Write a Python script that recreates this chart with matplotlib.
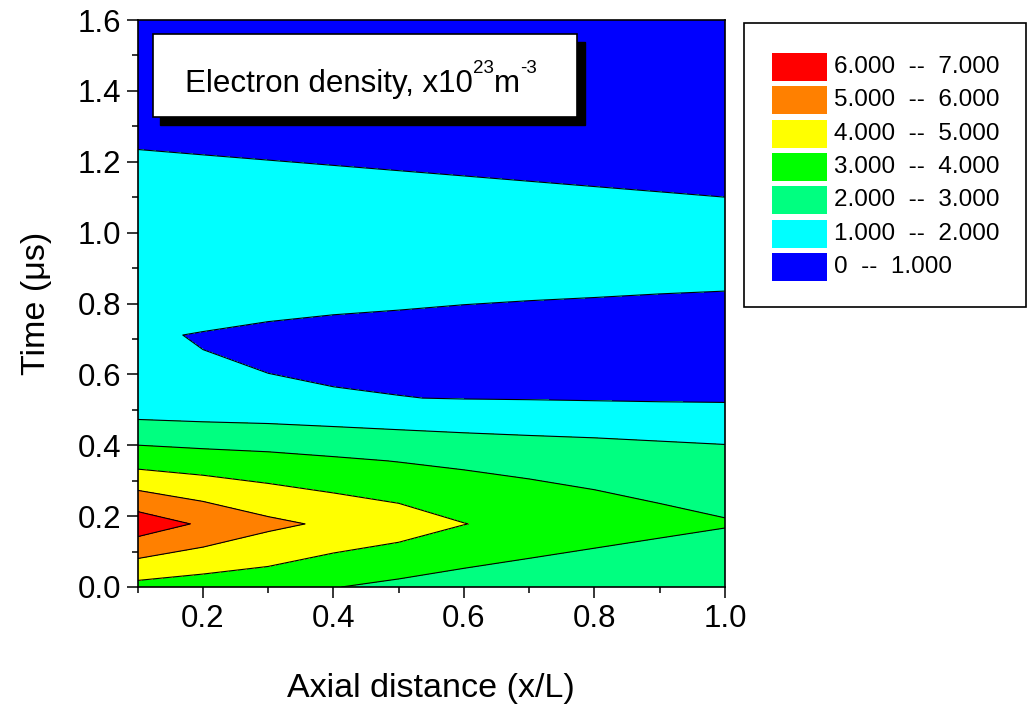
import numpy as np
import matplotlib
matplotlib.use("Agg")
import matplotlib.pyplot as plt
from matplotlib.patches import Rectangle
from matplotlib.ticker import MultipleLocator, FormatStrFormatter

plt.rcParams['font.family'] = ['Liberation Sans', 'DejaVu Sans']

# ---- data ----
axial_distance = [0.1, 0.2, 0.3, 0.4, 0.5, 0.6, 0.7, 0.8, 0.9, 1.0]
time_us = [0.0, 0.178, 0.356, 0.533, 0.711, 0.889, 1.067, 1.244, 1.422, 1.6]
# electron density (x10^23 m^-3), one row per time value
density_t0 = [3.70, 3.52, 3.41, 3.03, 2.78, 2.57, 2.40, 2.28, 2.17, 2.06]
density_t1 = [6.58, 5.86, 5.22, 4.83, 4.50, 4.02, 3.72, 3.45, 3.24, 3.065]
density_t2 = [3.61, 3.45, 3.32, 3.14, 2.97, 2.83, 2.71, 2.62, 2.50, 2.39]
density_t3 = [1.17, 1.12, 1.10, 1.054, 1.015, 0.974, 0.956, 0.93, 0.908, 0.897]
density_t4 = [1.08, 0.964, 0.846, 0.754, 0.68, 0.50, 0.45, 0.42, 0.40, 0.38]
density_t5 = [1.65, 1.62, 1.57, 1.52, 1.49, 1.54, 1.46, 1.395, 1.32, 1.27]
density_t6 = [1.50, 1.46, 1.42, 1.38, 1.34, 1.30, 1.26, 1.22, 1.18, 1.14]
density_t7 = [0.972, 0.926, 0.880, 0.832, 0.782, 0.729, 0.670, 0.602, 0.518, 0.391]
density_t8 = [0.82, 0.78, 0.74, 0.70, 0.66, 0.61, 0.56, 0.50, 0.43, 0.33]
density_t9 = [0.70, 0.67, 0.63, 0.60, 0.56, 0.52, 0.47, 0.42, 0.36, 0.28]

levels = [0, 1, 2, 3, 4, 5, 6, 7]
level_colors = ['#0000FF', '#00FFFF', '#00FF80', '#00FF00', '#FFFF00', '#FF8000', '#FF0000']
legend_labels = ['0  --  1.000', '1.000  --  2.000', '2.000  --  3.000', '3.000  --  4.000',
                 '4.000  --  5.000', '5.000  --  6.000', '6.000  --  7.000']
x_ticks = [0.2, 0.4, 0.6, 0.8, 1.0]
y_ticks = [0.0, 0.2, 0.4, 0.6, 0.8, 1.0, 1.2, 1.4, 1.6]
title_parts = [('Electron density, x10', False), ('23', True), ('m', False), ('-3', True)]

W, H = 1028, 709
fig = plt.figure(figsize=(W / 100, H / 100), dpi=100)

def fx(px):
    return px / W

def fy(py):
    return 1 - py / H

ax_l, ax_r, ax_t, ax_b = 137.75, 725, 20, 587
ax = fig.add_axes([fx(ax_l), fy(ax_b), (ax_r - ax_l) / W, (ax_b - ax_t) / H])

Z = np.array([density_t0, density_t1, density_t2, density_t3, density_t4,
              density_t5, density_t6, density_t7, density_t8, density_t9])
X, Y = np.meshgrid(axial_distance, time_us)
ax.contourf(X, Y, Z, levels=levels, colors=level_colors)
ax.contour(X, Y, Z, levels=levels[1:-1], colors='k', linewidths=0.8)

ax.set_xlim(0.1, 1.0)
ax.set_ylim(0.0, 1.6)
ax.set_xticks(x_ticks)
ax.set_yticks(y_ticks)
ax.xaxis.set_minor_locator(MultipleLocator(0.1))
ax.yaxis.set_minor_locator(MultipleLocator(0.1))
ax.xaxis.set_major_formatter(FormatStrFormatter('%.1f'))
ax.yaxis.set_major_formatter(FormatStrFormatter('%.1f'))
ax.tick_params(which='major', direction='out', length=8, width=1.1, labelsize=22.5, pad=4)
ax.tick_params(which='minor', direction='out', length=4.5, width=1.1)
for s in ax.spines.values():
    s.set_linewidth(1.2)

ax.set_xlabel('Axial distance (x/L)', fontsize=24.5, labelpad=28)
ax.set_ylabel('Time (\u03bcs)', fontsize=24.5, labelpad=18)

# title box with drop shadow
fig.patches.append(Rectangle((fx(160), fy(125)), (585 - 160) / W, (125 - 41.7) / H,
                             transform=fig.transFigure, facecolor='black', edgecolor='black', zorder=5))
fig.patches.append(Rectangle((fx(152.7), fy(116.7)), (576.7 - 152.7) / W, (116.7 - 34) / H,
                             transform=fig.transFigure, facecolor='white', edgecolor='black',
                             linewidth=1.2, zorder=6))

fig.canvas.draw()
renderer = fig.canvas.get_renderer()
x_cursor = 185.0
base_y = 92.0
for txt, sup in title_parts:
    t = fig.text(fx(x_cursor), fy(base_y - (19 if sup else 0)), txt,
                 fontsize=13.5 if sup else 22.5, ha='left', va='baseline', zorder=7)
    bb = t.get_window_extent(renderer)
    x_cursor += bb.width

# legend box
fig.patches.append(Rectangle((fx(744), fy(307)), (1026 - 744) / W, (307 - 22.7) / H,
                             transform=fig.transFigure, facecolor='white', edgecolor='black',
                             linewidth=1.2, zorder=5))
row_centers = [267, 234, 200, 167, 134, 100, 67]
for col, lab, yc in zip(level_colors, legend_labels, row_centers):
    fig.patches.append(Rectangle((fx(772), fy(yc + 14)), 55 / W, 28 / H,
                                 transform=fig.transFigure, facecolor=col, edgecolor='none', zorder=6))
    fig.text(fx(834), fy(yc), lab, fontsize=17.5, ha='left', va='center', zorder=7)

fig.savefig('out.png', dpi=100)
